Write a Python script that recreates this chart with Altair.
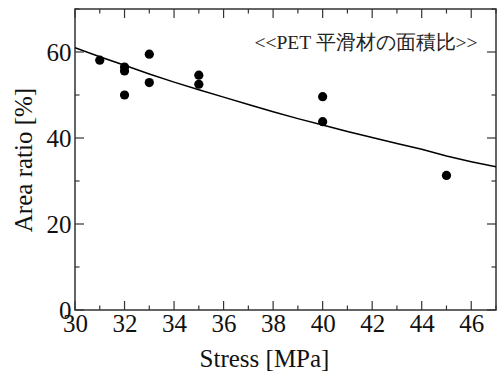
import altair as alt
import pandas as pd

# measured data points
stress = [31, 32, 32, 32, 33, 33, 35, 35, 40, 40, 45]
area = [58.1, 56.5, 55.6, 50.0, 59.5, 52.9, 54.6, 52.5, 49.6, 43.8, 31.3]

# fitted curve
curve_x = [30, 31, 32, 33, 34, 35, 36, 37, 38, 39, 40, 41, 42, 43, 44, 45, 46, 47]
curve_y = [61.0, 58.9, 56.9, 54.9, 53.0, 51.2, 49.5, 47.8, 46.1, 44.5, 43.0,
           41.5, 40.1, 38.7, 37.4, 35.8, 34.5, 33.3]

x_major = [30, 32, 34, 36, 38, 40, 42, 44, 46]
x_minor = [31, 33, 35, 37, 39, 41, 43, 45, 47]
y_major = [0, 20, 40, 60]
y_minor = [10, 30, 50, 70]

note_text = "<<PET 平滑材の面積比>>"
note_x = 41.75
note_y = 62.0

W, H = 421, 301
MAJ, MIN = 9, 4.5
FONT = "Liberation Serif"
TEXT_COLOR = "#111111"

xs = alt.Scale(domain=[30, 47], nice=False, zero=False)
ys = alt.Scale(domain=[0, 70], nice=False, zero=False)

pts = pd.DataFrame({"x": stress, "y": area})
crv = pd.DataFrame({"x": curve_x, "y": curve_y})

xaxis = alt.Axis(values=x_major, format="d", labelFont=FONT, labelFontSize=25,
                 labelColor=TEXT_COLOR, labelPadding=1, ticks=False, domain=False,
                 grid=False, title="Stress [MPa]", titleFont=FONT, titleFontSize=25,
                 titleFontWeight="normal", titleColor=TEXT_COLOR, titlePadding=10,
                 titleX=189, titleAlign="center", labelFlush=False)
yaxis = alt.Axis(values=y_major, format="d", labelFont=FONT, labelFontSize=25,
                 labelColor=TEXT_COLOR, labelPadding=4, ticks=False, domain=False,
                 grid=False, title="Area ratio [%]", titleFont=FONT, titleFontSize=25,
                 titleFontWeight="normal", titleColor=TEXT_COLOR, titlePadding=10,
                 labelFlush=False)

line = alt.Chart(crv).mark_line(color="black", strokeWidth=1.5, clip=True).encode(
    x=alt.X("x:Q", scale=xs, axis=xaxis),
    y=alt.Y("y:Q", scale=ys, axis=yaxis),
)
points = alt.Chart(pts).mark_circle(color="black", size=85, opacity=1).encode(
    x=alt.X("x:Q", scale=xs),
    y=alt.Y("y:Q", scale=ys),
)

TICK_COLOR = "#333333"


def xticks(vals, length, top):
    df = pd.DataFrame({"x": vals})
    if top:
        y1, y2 = 0, length
    else:
        y1, y2 = H, H - length
    return alt.Chart(df).mark_rule(color=TICK_COLOR, strokeWidth=1.2).encode(
        x=alt.X("x:Q", scale=xs), y=alt.value(y1), y2=alt.value(y2))


def yticks(vals, length, right):
    df = pd.DataFrame({"y": vals})
    if right:
        x1, x2 = W, W - length
    else:
        x1, x2 = 0, length
    return alt.Chart(df).mark_rule(color=TICK_COLOR, strokeWidth=1.2).encode(
        y=alt.Y("y:Q", scale=ys), x=alt.value(x1), x2=alt.value(x2))


ticks = [
    xticks(x_major, MAJ, False), xticks(x_minor, MIN, False),
    xticks(x_major, MAJ, True), xticks(x_minor, MIN, True),
    yticks(y_major, MAJ, False), yticks(y_minor, MIN, False),
    yticks(y_major, MAJ, True), yticks(y_minor, MIN, True),
]

note = alt.Chart(pd.DataFrame({"x": [note_x], "y": [note_y], "t": [note_text]})).mark_text(
    font="Liberation Serif", fontSize=19.5, color="#222222",
    align="center", baseline="middle").encode(
    x=alt.X("x:Q", scale=xs), y=alt.Y("y:Q", scale=ys), text="t:N")

chart = alt.layer(line, points, note, *ticks).properties(
    width=W, height=H,
    autosize=alt.AutoSizeParams(type="none"),
    padding={"left": 75, "top": 9, "right": 1, "bottom": 64},
).configure_view(stroke="#333333", strokeWidth=1.5)

chart.save("out.html", embed_options={"renderer": "svg", "actions": False})
